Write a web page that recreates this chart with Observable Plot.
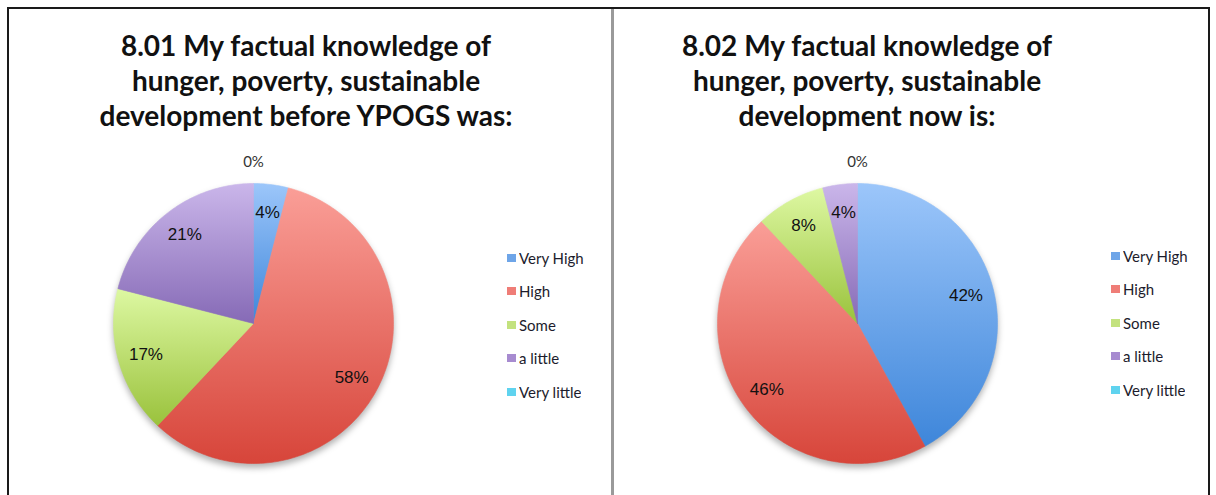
<!DOCTYPE html>
<html><head><meta charset="utf-8">
<script src="https://cdn.jsdelivr.net/npm/d3@7"></script>
<script src="https://cdn.jsdelivr.net/npm/@observablehq/plot@0.6"></script>
<style>
body{margin:0;background:#fff;}
#root{position:relative;width:1216px;height:495px;overflow:hidden;background:#fff;}
.frame{position:absolute;}
.title{position:absolute;width:600px;text-align:center;font-family:Lato, sans-serif;font-weight:700;font-size:28px;line-height:35px;color:#111;}
.pie{position:absolute;}
.leg{position:absolute;width:120px;}
.lg-swatch{height:33.5px;padding:0 !important;}
.lg-swatch > svg{margin-right:3px !important;}
</style></head><body><div id="root"></div>
<script>
const categories = ["Very High", "High", "Some", "a little", "Very little"];
const beforeValues = [4, 58, 17, 21, 0];
const nowValues = [42, 46, 8, 4, 0];
const titleBefore = ["8.01 My factual knowledge of", "hunger, poverty, sustainable", "development before YPOGS was:"];
const titleNow = ["8.02 My factual knowledge of", "hunger, poverty, sustainable", "development now is:"];
const legendColors = ["#6ea5e8", "#ef7d77", "#c3e27e", "#a78bd0", "#5fd3ef"];
const lightColors = ["#9cc6fa", "#fa9e97", "#ddf8a2", "#cab6ea", "#8ee6f7"];
const darkColors = ["#3e86da", "#d7453a", "#9ac23c", "#866ab6", "#35b8d8"];

const root = document.getElementById("root");

function addBox(style) {
  const d = document.createElement("div");
  d.className = "frame";
  Object.assign(d.style, style);
  root.appendChild(d);
}
addBox({left: "7px", top: "7px", width: "1203px", height: "2px", background: "#1a1a1a"});
addBox({left: "7px", top: "7px", width: "2px", height: "488px", background: "#1a1a1a"});
addBox({left: "1208px", top: "7px", width: "2px", height: "488px", background: "#1a1a1a"});
addBox({left: "611px", top: "9px", width: "3px", height: "486px", background: "#9a9a9a"});

function sliceRows(values, id) {
  const total = d3.sum(values);
  const rows = [], labels = [];
  let acc = 0;
  values.forEach((v, i) => {
    const a0 = acc / total * 2 * Math.PI, a1 = (acc + v) / total * 2 * Math.PI;
    acc += v;
    const mid = (a0 + a1) / 2;
    const r = v === 0 ? 1.15 : 0.8;
    labels.push({v, label: Math.round(v / total * 100) + "%", x: Math.sin(mid) * r, y: Math.cos(mid) * r});
    if (v === 0) return;
    const fill = `url(#${id}-g${i})`;
    const n = Math.max(2, Math.ceil((a1 - a0) / (Math.PI / 180)));
    rows.push({key: i, x: 0, y: 0, fill});
    for (let k = 0; k <= n; k++) {
      const a = a0 + (a1 - a0) * k / n;
      rows.push({key: i, x: Math.sin(a), y: Math.cos(a), fill});
    }
    rows.push({key: i, x: 0, y: 0, fill});
  });
  return {rows, labels};
}

function drawPanel(values, title, id, titleLeft, pieLeft, legLeft, legTop) {
  const t = document.createElement("div");
  t.className = "title";
  t.style.left = titleLeft + "px";
  t.style.top = "28px";
  t.innerHTML = title.join("<br>");
  root.appendChild(t);

  const {rows, labels} = sliceRows(values, id);
  const svg = Plot.plot({
    width: 400, height: 400, margin: 60,
    style: {background: "transparent", overflow: "visible"},
    x: {domain: [-1, 1], axis: null},
    y: {domain: [-1, 1], axis: null},
    color: {type: "identity"},
    marks: [
      Plot.line(rows, {x: "x", y: "y", z: "key", fill: "fill", stroke: "fill", strokeWidth: 0.6, curve: "linear"}),
      Plot.text(labels.filter(d => d.v > 0), {x: "x", y: "y", text: "label", fontSize: 17, fontFamily: "Liberation Sans, Arial, sans-serif", fill: "#111"}),
      Plot.text(labels.filter(d => d.v === 0), {x: "x", y: "y", text: "label", fontSize: 15, fontFamily: "Lato, sans-serif", fill: "#333"})
    ]
  });
  const defs = d3.select(svg).insert("defs", ":first-child");
  categories.forEach((c, i) => {
    const g = defs.append("linearGradient").attr("id", `${id}-g${i}`)
      .attr("x1", 0).attr("y1", 0).attr("x2", 0).attr("y2", 1);
    g.append("stop").attr("offset", "0%").attr("stop-color", lightColors[i]);
    g.append("stop").attr("offset", "100%").attr("stop-color", darkColors[i]);
  });
  d3.select(svg).select('g[aria-label="line"]').style("filter", "drop-shadow(0px 4px 3px rgba(0,0,0,0.3))");
  const holder = document.createElement("div");
  holder.className = "pie";
  holder.style.left = pieLeft + "px";
  holder.style.top = "123px";
  holder.appendChild(svg);
  root.appendChild(holder);

  const leg = Plot.legend({
    color: {domain: categories, range: legendColors},
    legend: "swatches",
    columns: 1,
    swatchWidth: 9,
    swatchHeight: 8,
    className: "lg",
    style: {fontFamily: "Lato, sans-serif", fontSize: "15px", color: "#1c1c2c", margin: "0"}
  });
  const lh = document.createElement("div");
  lh.className = "leg";
  lh.style.left = legLeft + "px";
  lh.style.top = legTop + "px";
  lh.appendChild(leg);
  root.appendChild(lh);
}

drawPanel(beforeValues, titleBefore, "L", 6, 52.5, 507, 241);
drawPanel(nowValues, titleNow, "R", 567, 657, 1111, 239);
</script>
</body></html>
